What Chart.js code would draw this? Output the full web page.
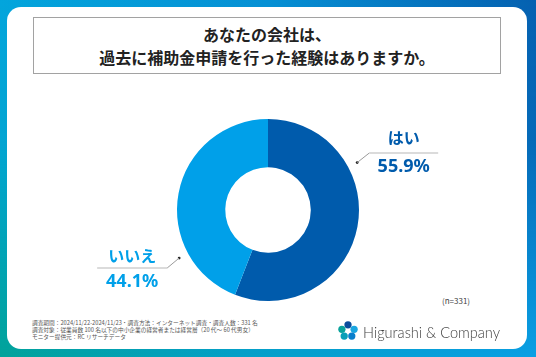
<!DOCTYPE html>
<html><head><meta charset="utf-8">
<script src="https://cdn.jsdelivr.net/npm/chart.js@4"></script>
<style>
html,body{margin:0;padding:0;width:536px;height:357px;overflow:hidden;}
body{position:relative;font-family:"Noto Sans CJK JP","Noto Sans",sans-serif;}
#bgB{position:absolute;left:0;top:0;width:536px;height:357px;background:linear-gradient(to right,#02a39a 0%,#05a0c8 45%,#0aa0e4 100%);}
#bgT{position:absolute;left:0;top:0;width:536px;height:357px;background:linear-gradient(to right,#03a5dc 0%,#0690d4 50%,#0560b0 100%);
 -webkit-mask-image:linear-gradient(to bottom,rgba(0,0,0,1) 0%,rgba(0,0,0,0.85) 40%,rgba(0,0,0,0) 100%);mask-image:linear-gradient(to bottom,rgba(0,0,0,1) 0%,rgba(0,0,0,0.85) 40%,rgba(0,0,0,0) 100%);}
#card{position:absolute;left:7px;top:7px;width:520px;height:342px;background:#fff;border-radius:14px;}
#title{position:absolute;left:33px;top:17px;width:466px;height:55px;border:1.5px solid #a2a2a2;box-sizing:content-box;background:#fff;
 text-align:center;font-weight:bold;font-size:16px;line-height:23px;color:#222;}
#title div{height:23px;}
#foot{position:absolute;left:32px;top:318.5px;font-size:5.7px;line-height:7px;color:#555;white-space:nowrap;}
#n{position:absolute;left:442px;top:295px;font-size:8px;color:#444;}
#logo{position:absolute;left:338px;top:321px;}
#brand{position:absolute;left:363px;top:321px;font-family:Lato,"Open Sans",sans-serif;font-weight:300;font-size:16.5px;color:#3c3c3c;line-height:22px;white-space:nowrap;transform-origin:0 50%;}
canvas{position:absolute;left:0;top:0;}
</style></head>
<body>
<div id="bgB"></div><div id="bgT"></div>
<div id="card"></div>
<div id="title"><div style="margin-top:5px">あなたの会社は、</div><div>過去に補助金申請を行った経験はありますか。</div></div>
<div id="n">(n=331)</div>
<div id="foot">調査期間：2024/11/22-2024/11/23・調査方法：インターネット調査・調査人数：331 名<br>調査対象：従業員数 100 名以下の中小企業の経営者または経営層（20 代～ 60 代男女）<br>モニター提供元：RC リサーチデータ</div>
<svg id="logo" width="20" height="19" viewBox="0 0 24 23">
<circle cx="12" cy="4.6" r="4.4" fill="#0a4c9c"/>
<circle cx="4.6" cy="10" r="4.4" fill="#0aa39c"/>
<circle cx="19.4" cy="10" r="4.4" fill="#1aa6e0"/>
<circle cx="7.4" cy="18.2" r="4.4" fill="#0a9fb8"/>
<circle cx="16.6" cy="18.2" r="4.4" fill="#0a7fcc"/>
</svg>
<div id="brand">Higurashi &amp; Company</div>
<canvas id="c" width="536" height="357"></canvas>
<script>
const categories = ["はい", "いいえ"];
const percentages = [55.9, 44.1];
const valueLabels = ["55.9%", "44.1%"];

const colors = ["#005bac", "#00a0e9"];
const labelCfg = [
  {angle: 62, side: "right", rise: -9.5, lineW: 69, catY: -15, valY: 14},
  {angle: 241.6, side: "left", rise: 10, lineW: 70, catY: -12, valY: 14}
];

(function(){
  const b = document.getElementById('brand');
  const w = b.getBoundingClientRect().width;
  if (w > 0) b.style.transform = 'scaleX(' + (137 / w) + ')';
})();

const labelPlugin = {
  id: 'outLabels',
  afterDraw(chart) {
    const ctx = chart.ctx;
    const meta = chart.getDatasetMeta(0);
    meta.data.forEach((arc, i) => {
      const cfg = labelCfg[i];
      const cx = arc.x, cy = arc.y, R = arc.outerRadius;
      const a = (cfg.angle - 90) * Math.PI / 180;
      const dx = cx + Math.cos(a) * (R + 10);
      const dy = cy + Math.sin(a) * (R + 10);
      const ex = dx + (cfg.side === 'right' ? 12 : -12);
      const ey = dy + cfg.rise;
      ctx.save();
      ctx.fillStyle = '#222';
      ctx.beginPath(); ctx.arc(dx, dy, 1.4, 0, Math.PI * 2); ctx.fill();
      ctx.strokeStyle = '#9a9a9a'; ctx.lineWidth = 1;
      ctx.beginPath(); ctx.moveTo(dx, dy); ctx.lineTo(ex, ey); ctx.stroke();
      ctx.strokeStyle = '#cfcfcf'; ctx.lineWidth = 1.5;
      const x2 = cfg.side === 'right' ? ex + cfg.lineW : ex - cfg.lineW;
      ctx.beginPath(); ctx.moveTo(ex, ey); ctx.lineTo(x2, ey); ctx.stroke();
      const mid = (ex + x2) / 2;
      ctx.fillStyle = colors[i];
      ctx.textAlign = 'center'; ctx.textBaseline = 'middle';
      ctx.font = 'bold 16px "Noto Sans CJK JP", sans-serif';
      ctx.fillText(categories[i], mid, ey + cfg.catY);
      ctx.font = 'bold 18px "Noto Sans", "DejaVu Sans", sans-serif';
      ctx.fillText(valueLabels[i], mid, ey + cfg.valY);
      ctx.restore();
    });
  }
};

new Chart(document.getElementById('c'), {
  type: 'doughnut',
  data: {
    labels: categories,
    datasets: [{ data: percentages, backgroundColor: colors, borderWidth: 0 }]
  },
  options: {
    responsive: false,
    animation: false,
    cutout: '47%',
    layout: { padding: { left: 177, right: 177, top: 119, bottom: 56 } },
    plugins: { legend: { display: false }, tooltip: { enabled: false } }
  },
  plugins: [labelPlugin]
});
</script>
</body></html>
